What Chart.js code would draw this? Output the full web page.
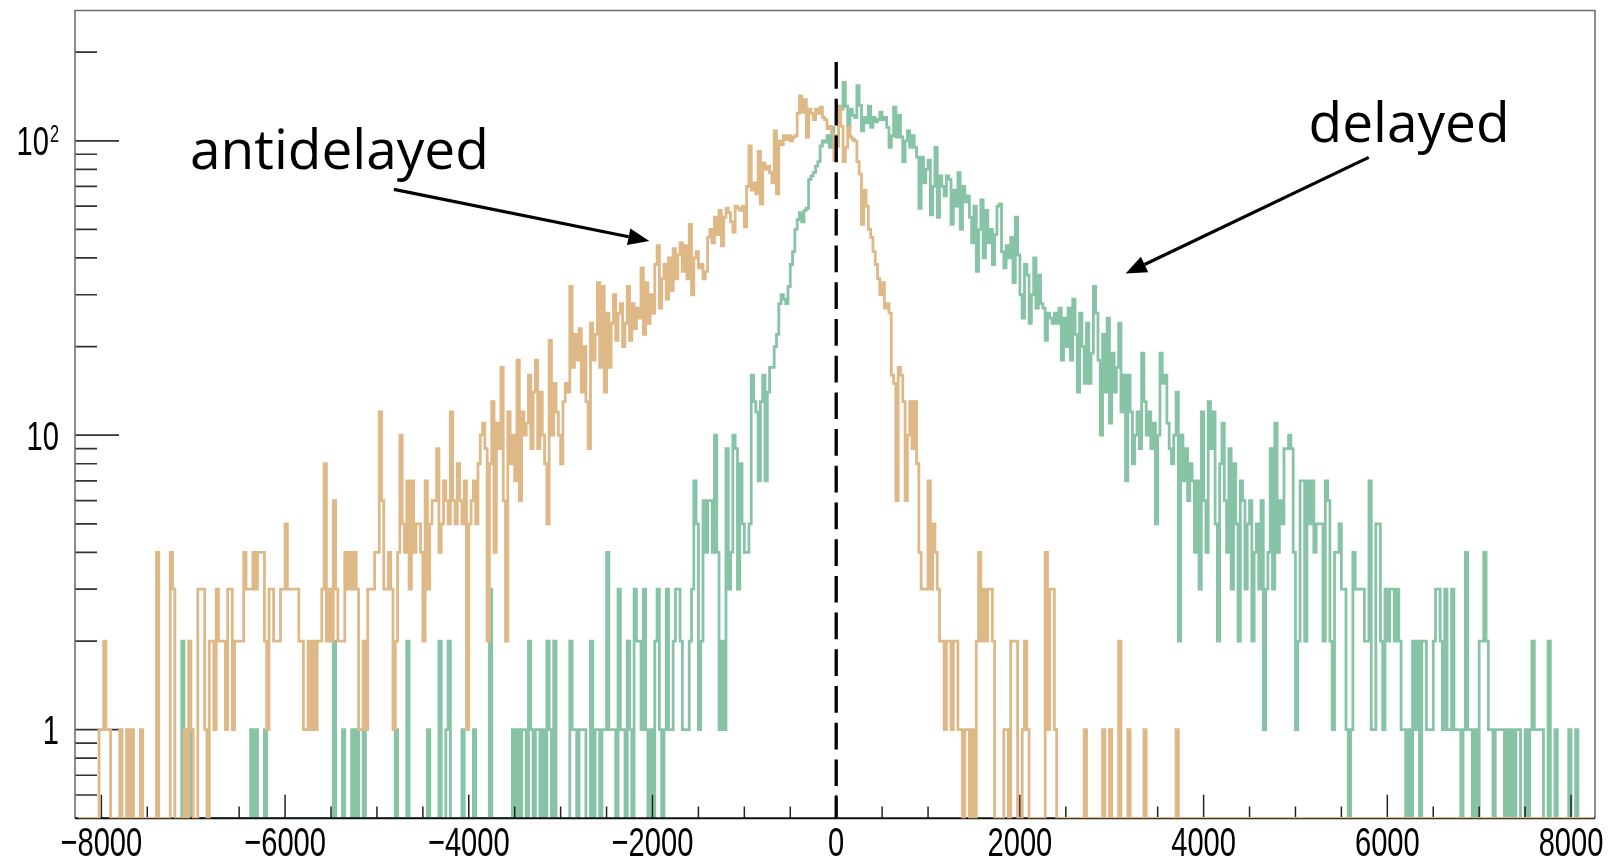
<!DOCTYPE html>
<html>
<head>
<meta charset="utf-8">
<title>antidelayed / delayed</title>
<script src="https://cdn.jsdelivr.net/npm/chart.js"></script>
<style>
  html, body { margin: 0; padding: 0; background: #ffffff; }
  #wrap { width: 1613px; height: 860px; position: relative; }
  canvas { display: block; }
</style>
</head>
<body>
<div id="wrap"><canvas id="chart" width="1613" height="860"></canvas></div>
<script>
// Histogram binning: 660 bins of 25 from -8250 to 8250
const BIN_LOW = -8250;
const BIN_WIDTH = 25;

// Antidelayed counts per bin (20 bins = 500 per row)
const antidelayed = [
  0,0,0,0,0,0,0,0,0,1,1,2,1,1,0,0,0,0,1,0,            // -8250
  0,1,0,1,0,0,0,1,0,0,0,0,0,0,4,0,0,0,0,0,            // -7750
  4,3,0,0,0,0,1,0,2,1,0,0,3,3,3,1,0,2,2,1,            // -7250
  3,2,2,2,1,3,3,1,2,2,2,2,4,3,3,3,4,3,4,4,            // -6750
  4,2,1,3,3,2,2,2,3,3,5,3,3,3,3,3,2,2,1,1,            // -6250
  2,1,2,1,2,2,3,8,2,3,2,6,3,2,2,2,4,3,4,3,            // -5750
  4,3,1,1,2,1,3,3,3,4,4,12,6,3,3,4,3,1,2,4,           // -5250
  10,5,4,7,3,7,4,5,5,4,2,7,3,5,6,6,9,4,5,7,           // -4750
  6,5,12,6,5,8,6,5,7,1,5,6,7,5,8,10,11,9,2,8,         // -4250
  13,4,11,9,17,6,2,12,8,10,7,18,6,12,10,11,16,9,14,18,   // -3750
  9,14,10,8,5,21,10,15,12,10,8,13,15,14,32,17,22,18,23,14, // -3250
  20,13,9,24,18,22,33,17,32,14,26,17,24,30,21,26,28,20,24,32, // -2750
  21,28,23,27,25,37,22,33,24,30,26,38,44,27,34,38,29,40,31,43, // -2250
  34,41,45,36,44,34,52,30,40,42,37,38,34,36,47,50,45,55,48,58, // -1750
  44,55,59,57,53,49,60,59,58,60,51,70,96,68,72,66,92,61,84,80, // -1250
  82,78,72,108,66,100,97,104,101,104,100,103,104,124,142,125,138,103,128,124, // -750
  118,128,124,130,120,118,110,112,106,86,96,130,112,85,95,111,103,101,100,85, // -250
  77,52,68,60,50,47,42,38,34,30,33,27,28,26,16,15,6,17,16,13, // 250
  6,10,13,9,13,8,4,3,3,3,7,3,5,4,3,2,2,1,2,2,         // 750
  1,2,2,1,1,0,1,1,0,1,0,2,4,2,3,2,3,3,2,0,            // 1250
  0,0,0,1,1,0,2,2,2,0,0,1,2,1,0,0,0,0,0,0,            // 1750
  0,4,1,3,3,1,0,0,0,0,0,0,0,0,0,0,0,0,1,0,            // 2250
  0,0,0,0,0,0,1,0,0,1,0,0,0,2,0,0,0,1,0,0,            // 2750
  0,0,0,0,1,0,0,0,0,0,0,0,0,0,0,0,0,0,1,0,            // 3250
  0,0,0,0,0,0,0,0,0,0,0,0,0,0,0,0,0,0,0,0,            // 3750
  0,0,0,0,0,0,0,0,0,0,0,0,0,0,0,0,0,0,0,0,            // 4250
  0,0,0,0,0,0,0,0,0,0,0,0,0,0,0,0,0,0,0,0,            // 4750
  0,0,0,0,0,0,0,0,0,0,0,0,0,0,0,0,0,0,0,0,            // 5250
  0,0,0,0,0,0,0,0,0,0,0,0,0,0,0,0,0,0,0,0,            // 5750
  0,0,0,0,0,0,0,0,0,0,0,0,0,0,0,0,0,0,0,0,            // 6250
  0,0,0,0,0,0,0,0,0,0,0,0,0,0,0,0,0,0,0,0,            // 6750
  0,0,0,0,0,0,0,0,0,0,0,0,0,0,0,0,0,0,0,0,            // 7250
  0,0,0,0,0,0,0,0,0,0,0,0,0,0,0,0,0,0,0,0             // 7750
];

// Delayed counts per bin
const delayed = [
  0,0,0,0,0,0,0,0,0,0,0,0,0,0,0,0,0,0,0,0,            // -8250
  0,0,0,0,0,0,0,0,0,0,0,0,0,0,0,0,0,0,0,0,            // -7750
  0,0,0,0,0,2,0,0,1,0,0,0,0,0,0,0,0,0,0,0,            // -7250
  0,0,0,0,0,0,0,0,0,0,0,0,0,0,0,1,0,1,0,0,            // -6750
  0,1,0,0,0,0,0,0,0,0,0,0,0,0,0,0,0,0,0,0,            // -6250
  0,0,0,0,0,0,0,0,0,0,0,2,0,0,0,1,0,0,0,1,            // -5750
  0,1,0,0,1,0,0,0,0,0,0,0,0,0,0,0,0,0,1,0,            // -5250
  0,0,0,2,0,0,0,0,0,0,0,0,1,0,0,0,0,2,0,0,            // -4750
  1,2,0,0,0,0,0,1,0,0,0,0,1,0,0,0,0,0,0,3,            // -4250
  0,0,0,0,0,0,0,0,0,1,0,1,0,1,1,0,2,1,0,1,            // -3750
  1,0,1,0,2,1,0,2,0,0,0,0,0,0,2,1,1,0,1,1,            // -3250
  1,0,0,2,0,1,1,0,1,1,4,1,1,1,0,3,1,1,0,2,            // -2750
  1,0,3,2,2,1,3,1,0,1,0,2,3,1,0,1,3,1,1,2,            // -2250
  3,3,2,1,1,1,2,3,7,5,1,2,6,4,6,6,4,10,4,1,           // -1750
  2,1,9,3,4,10,9,3,8,5,4,4,5,16,13,12,7,13,16,7,      // -1250
  14,17,17,20,22,28,30,29,28,32,38,42,50,54,57,53,58,59,74,76, // -750
  78,82,85,96,100,99,104,95,111,104,98,131,128,158,131,111,128,122,120,154, // -250
  132,108,120,115,131,111,120,116,118,125,118,120,111,95,104,130,103,122,103,85, // 250
  100,108,95,104,95,88,59,88,72,80,86,56,70,95,55,76,70,65,76,74, // 750
  52,68,60,78,50,70,62,65,55,45,60,36,50,63,40,58,45,50,38,48, // 1250
  60,61,42,37,44,40,47,33,55,41,30,25,38,35,24,30,40,27,35,28, // 1750
  27,21,26,25,24,26,24,27,18,25,20,27,18,29,22,14,26,20,15,24, // 2250
  15,19,32,26,18,10,22,14,25,11,19,14,17,24,12,16,7,16,12,8,   // 2750
  10,12,9,19,13,10,12,9,11,5,10,19,15,16,11,9,8,10,14,2,       // 3250
  10,7,9,6,8,7,4,7,3,12,6,4,13,9,12,5,2,8,11,6,       // 3750
  4,9,3,8,5,2,7,6,3,5,6,2,4,5,3,6,1,3,4,9,            // 4250
  3,11,4,6,5,9,9,10,9,4,1,2,7,7,2,7,5,7,4,5,          // 4750
  5,5,2,7,6,2,1,4,4,5,3,3,1,0,1,4,3,3,3,3,            // 5250
  2,2,7,1,1,5,5,2,1,3,2,3,3,2,3,2,1,1,0,1,            // 5750
  0,2,1,2,0,2,2,1,1,1,2,3,3,2,1,3,1,1,3,1,            // 6250
  1,1,0,1,4,1,1,0,1,0,2,2,4,2,1,1,0,1,1,1,            // 6750
  1,0,1,0,1,0,1,1,0,0,1,0,1,2,1,1,1,1,0,0,            // 7250
  2,0,0,1,0,0,0,0,0,1,0,0,1,0,0,0,0,0,0,0             // 7750
];

// Axis ticks
const xMajorTicks = [-8000, -6000, -4000, -2000, 0, 2000, 4000, 6000, 8000];
const xMinorTicks = [-7500, -7000, -6500, -5500, -5000, -4500, -3500, -3000, -2500, -1500, -1000, -500,
                     500, 1000, 1500, 2500, 3000, 3500, 4500, 5000, 5500, 6500, 7000, 7500];
const yMajorTicks = [1, 10, 100];
const yMinorTicks = [0.6, 0.7, 0.8, 0.9, 2, 3, 4, 5, 6, 7, 8, 9, 20, 30, 40, 50, 60, 70, 80, 90, 200];
const yTickLabels = [
  { value: 1, base: '1', exp: '' },
  { value: 10, base: '10', exp: '' },
  { value: 100, base: '10', exp: '2' }
];

// Reference line at zero and annotations, in data coordinates
const zeroLine = { x: 0, top: 185 };
const noteTexts = [
  { text: 'antidelayed', x: -7035, y: 80.4 },
  { text: 'delayed', x: 5142, y: 99.2 }
];
const noteArrows = [
  { from: [-4815, 68.4], to: [-2035, 45.7] },
  { from: [5798, 87.8], to: [3151, 35.4] }
];

// Axis ranges
const X_MIN = -8287, X_MAX = 8261;
const Y_MIN = 0.5, Y_MAX = 277;

const COLOR_ANTI = '#deb887';
const COLOR_DEL = '#87c4a5';

// Step outline points: one point per bin's low edge plus the closing high edge.
// Empty bins sit on the floor of the log axis.
function histogramPoints(counts) {
  const pts = counts.map((c, k) => ({ x: BIN_LOW + k * BIN_WIDTH, y: c > 0 ? c : Y_MIN }));
  pts.push({ x: BIN_LOW + counts.length * BIN_WIDTH, y: pts[pts.length - 1].y });
  return pts;
}

const fmtX = v => (v < 0 ? '\u2212' + Math.abs(v) : String(v));

const LABEL_FONT = '"Liberation Sans", Arial, sans-serif';
const LABEL_SQUEEZE = 0.71;

// Frame and tick marks, painted after the delayed series and beneath the antidelayed one
const frameAndTicks = {
  id: 'frameAndTicks',
  afterDatasetDraw(chart, args) {
    if (args.index !== 1) return;
    const { ctx, chartArea: a, scales: { x, y } } = chart;
    ctx.save();
    ctx.lineCap = 'butt';

    ctx.strokeStyle = '#222';
    ctx.lineWidth = 1.5;
    ctx.beginPath();
    xMajorTicks.forEach(v => {
      const px = x.getPixelForValue(v);
      ctx.moveTo(px, a.bottom); ctx.lineTo(px, a.bottom - 23.5);
    });
    xMinorTicks.forEach(v => {
      const px = x.getPixelForValue(v);
      ctx.moveTo(px, a.bottom); ctx.lineTo(px, a.bottom - 11.7);
    });
    ctx.stroke();

    ctx.strokeStyle = '#333';
    ctx.lineWidth = 1.7;
    ctx.beginPath();
    yMajorTicks.forEach(v => {
      const py = y.getPixelForValue(v);
      ctx.moveTo(a.left, py); ctx.lineTo(a.left + 44, py);
    });
    yMinorTicks.forEach(v => {
      const py = y.getPixelForValue(v);
      ctx.moveTo(a.left, py); ctx.lineTo(a.left + 22, py);
    });
    ctx.stroke();

    // frame: grey left/top/right, black bottom axis
    ctx.strokeStyle = '#6e6e6e';
    ctx.lineWidth = 1.6;
    ctx.beginPath();
    ctx.moveTo(a.left, a.bottom);
    ctx.lineTo(a.left, a.top);
    ctx.lineTo(a.right, a.top);
    ctx.lineTo(a.right, a.bottom);
    ctx.stroke();
    ctx.strokeStyle = '#111';
    ctx.lineWidth = 2;
    ctx.beginPath();
    ctx.moveTo(a.left, a.bottom);
    ctx.lineTo(a.right, a.bottom);
    ctx.stroke();
    ctx.restore();
  }
};

function drawArrow(ctx, x0, y0, x1, y1) {
  const ang = Math.atan2(y1 - y0, x1 - x0);
  const L = 21, W = 8.5;
  const bx = x1 - L * Math.cos(ang), by = y1 - L * Math.sin(ang);
  ctx.beginPath();
  ctx.moveTo(x0, y0);
  ctx.lineTo(bx, by);
  ctx.stroke();
  ctx.beginPath();
  ctx.moveTo(x1, y1);
  ctx.lineTo(bx + W * Math.sin(ang), by - W * Math.cos(ang));
  ctx.lineTo(bx - W * Math.sin(ang), by + W * Math.cos(ang));
  ctx.closePath();
  ctx.fill();
}

// Labels, zero line and annotations on top of everything
const overlay = {
  id: 'overlay',
  afterDraw(chart) {
    const { ctx, chartArea: a, scales: { x, y } } = chart;
    ctx.save();

    // x tick labels (narrow Helvetica-like digits)
    ctx.fillStyle = '#000';
    ctx.font = '41px ' + LABEL_FONT;
    ctx.textAlign = 'center';
    ctx.textBaseline = 'alphabetic';
    xMajorTicks.forEach(v => {
      ctx.save();
      ctx.translate(x.getPixelForValue(v), 856);
      ctx.scale(LABEL_SQUEEZE, 1);
      ctx.fillText(fmtX(v), 0, 0);
      ctx.restore();
    });

    // y tick labels
    const rightEdge = 59;
    yTickLabels.forEach(t => {
      const py = y.getPixelForValue(t.value);
      let r = rightEdge;
      if (t.exp) {
        ctx.save();
        ctx.font = '23px ' + LABEL_FONT;
        ctx.textAlign = 'right';
        ctx.translate(r, py + 1);
        ctx.scale(LABEL_SQUEEZE, 1);
        ctx.fillText(t.exp, 0, 0);
        const w = ctx.measureText(t.exp).width * LABEL_SQUEEZE;
        ctx.restore();
        r -= w + 1;
      }
      ctx.save();
      ctx.font = '41px ' + LABEL_FONT;
      ctx.textAlign = 'right';
      ctx.translate(r, py + 14.6);
      ctx.scale(LABEL_SQUEEZE, 1);
      ctx.fillText(t.base, 0, 0);
      ctx.restore();
    });

    // dashed line at zero
    const zx = x.getPixelForValue(zeroLine.x);
    ctx.strokeStyle = '#000';
    ctx.lineWidth = 3.3;
    ctx.setLineDash([26.7, 10]);
    ctx.beginPath();
    ctx.moveTo(zx, y.getPixelForValue(zeroLine.top));
    ctx.lineTo(zx, a.bottom);
    ctx.stroke();
    ctx.setLineDash([]);

    // annotation text
    ctx.font = '55px "Open Sans", "Noto Sans", sans-serif';
    ctx.textAlign = 'left';
    ctx.textBaseline = 'alphabetic';
    noteTexts.forEach(n => {
      ctx.fillText(n.text, x.getPixelForValue(n.x), y.getPixelForValue(n.y));
    });

    // arrows
    ctx.strokeStyle = '#000';
    ctx.fillStyle = '#000';
    ctx.lineWidth = 3.2;
    noteArrows.forEach(ar => {
      drawArrow(ctx,
        x.getPixelForValue(ar.from[0]), y.getPixelForValue(ar.from[1]),
        x.getPixelForValue(ar.to[0]), y.getPixelForValue(ar.to[1]));
    });
    ctx.restore();
  }
};

new Chart(document.getElementById('chart'), {
  type: 'line',
  data: {
    datasets: [
      {
        label: 'antidelayed',
        data: histogramPoints(antidelayed),
        borderColor: COLOR_ANTI,
        borderWidth: 2.8,
        stepped: 'before',
        pointRadius: 0,
        fill: false,
        borderJoinStyle: 'miter'
      },
      {
        label: 'delayed',
        data: histogramPoints(delayed),
        borderColor: COLOR_DEL,
        borderWidth: 2.8,
        stepped: 'before',
        pointRadius: 0,
        fill: false,
        borderJoinStyle: 'miter'
      }
    ]
  },
  options: {
    responsive: false,
    animation: false,
    devicePixelRatio: 1,
    events: [],
    layout: { padding: { left: 75, right: 18, top: 10.5, bottom: 41.7 } },
    plugins: { legend: { display: false }, tooltip: { enabled: false } },
    scales: {
      x: { type: 'linear', min: X_MIN, max: X_MAX, display: false },
      y: { type: 'logarithmic', min: Y_MIN, max: Y_MAX, display: false }
    }
  },
  plugins: [frameAndTicks, overlay]
});
</script>
</body>
</html>
